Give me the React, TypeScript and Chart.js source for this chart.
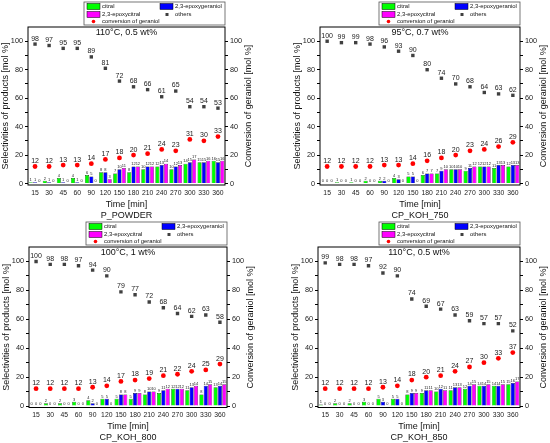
import { useEffect, useRef } from "react";
import { Chart, registerables } from "chart.js";

Chart.register(...registerables);

const FONT = '"Liberation Sans", Arial, sans-serif';

const TIMES = ["15", "30", "45", "60", "90", "120", "150", "180", "210", "240", "270", "300", "330", "360"];
const Y_TICKS = [0, 10, 20, 30, 40, 50, 60, 70, 80, 90, 100];

// P_POWDER, 110°C, 0.5 wt%
const P_POWDER_CITRAL = [1, 2, 4, 4, 6, 8, 7, 8, 10, 12, 10, 14, 15, 16];
const P_POWDER_EPOXYGERANIOL = [1, 1, 1, 1, 5, 8, 10, 12, 12, 13, 12, 15, 15, 15];
const P_POWDER_EPOXYCITRAL = [0, 0, 0, 0, 0, 3, 11, 12, 12, 14, 13, 17, 16, 16];
const P_POWDER_OTHERS = [98, 97, 95, 95, 89, 81, 72, 68, 66, 61, 65, 54, 54, 53];
const P_POWDER_CONVERSION = [12, 12, 13, 13, 14, 17, 18, 20, 21, 24, 23, 31, 30, 33];

// CP_KOH_750, 95°C, 0.7 wt%
const KOH750_CITRAL = [0, 1, 1, 2, 2, 4, 5, 6, 7, 10, 9, 12, 11, 12];
const KOH750_EPOXYGERANIOL = [0, 0, 0, 0, 2, 3, 5, 7, 9, 10, 11, 12, 13, 13];
const KOH750_EPOXYCITRAL = [0, 0, 0, 0, 0, 0, 0, 7, 10, 10, 12, 12, 13, 13];
const KOH750_OTHERS = [100, 99, 99, 98, 96, 93, 90, 80, 74, 70, 68, 64, 63, 62];
const KOH750_CONVERSION = [12, 12, 12, 12, 13, 13, 14, 16, 18, 20, 23, 24, 26, 29];

// CP_KOH_800, 100°C, 1 wt%
const KOH800_CITRAL = [0, 2, 2, 3, 4, 5, 5, 5, 8, 9, 12, 11, 8, 13];
const KOH800_EPOXYGERANIOL = [0, 0, 0, 0, 2, 5, 8, 9, 10, 11, 12, 13, 14, 14];
const KOH800_EPOXYCITRAL = [0, 0, 0, 0, 0, 0, 8, 9, 10, 12, 12, 14, 15, 15];
const KOH800_OTHERS = [100, 98, 98, 97, 94, 90, 79, 77, 72, 68, 64, 62, 63, 58];
const KOH800_CONVERSION = [12, 12, 12, 12, 13, 14, 17, 18, 19, 21, 22, 24, 25, 29];

// CP_KOH_850, 110°C, 0.5 wt%
const KOH850_CITRAL = [1, 2, 2, 3, 5, 5, 8, 9, 10, 11, 12, 14, 14, 15];
const KOH850_EPOXYGERANIOL = [0, 0, 0, 0, 3, 5, 9, 11, 12, 13, 14, 14, 14, 16];
const KOH850_EPOXYCITRAL = [0, 0, 0, 0, 0, 0, 9, 11, 11, 13, 15, 15, 15, 17];
const KOH850_OTHERS = [99, 98, 98, 97, 92, 90, 74, 69, 67, 63, 59, 57, 57, 52];
const KOH850_CONVERSION = [12, 12, 12, 12, 13, 14, 18, 20, 21, 24, 27, 30, 33, 37];

const SERIES_NAMES = ["citral", "2,3-epoxygeraniol", "2,3-epoxycitral", "others", "conversion of geraniol"];
const BAR_COLORS = ["#00ff00", "#0000ff", "#ff00ff"];
const OTHERS_COLOR = "#404040";
const CONVERSION_COLOR = "#ff0000";

type Panel = {
  name: string;
  title: string;
  series: number[][];
  left: number;
  top: number;
  width: number;
  height: number;
  xAxisHeight: number;
};

const PANELS: Panel[] = [
  {
    name: "P_POWDER",
    title: "110°C, 0.5 wt%",
    series: [P_POWDER_CITRAL, P_POWDER_EPOXYGERANIOL, P_POWDER_EPOXYCITRAL, P_POWDER_OTHERS, P_POWDER_CONVERSION],
    left: 0, top: 0, width: 255, height: 221, xAxisHeight: 36,
  },
  {
    name: "CP_KOH_750",
    title: "95°C, 0.7 wt%",
    series: [KOH750_CITRAL, KOH750_EPOXYGERANIOL, KOH750_EPOXYCITRAL, KOH750_OTHERS, KOH750_CONVERSION],
    left: 292, top: 0, width: 258, height: 221, xAxisHeight: 36,
  },
  {
    name: "CP_KOH_800",
    title: "100°C, 1 wt%",
    series: [KOH800_CITRAL, KOH800_EPOXYGERANIOL, KOH800_EPOXYCITRAL, KOH800_OTHERS, KOH800_CONVERSION],
    left: 1, top: 220, width: 256, height: 223, xAxisHeight: 35.5,
  },
  {
    name: "CP_KOH_850",
    title: "110°C, 0.5 wt%",
    series: [KOH850_CITRAL, KOH850_EPOXYGERANIOL, KOH850_EPOXYCITRAL, KOH850_OTHERS, KOH850_CONVERSION],
    left: 290, top: 220, width: 260, height: 223, xAxisHeight: 35.5,
  },
];

const makeDecorPlugin = (title: string) => ({
  id: "panelDecor",
  afterDatasetsDraw(chart: Chart) {
    const ctx = chart.ctx;
    chart.data.datasets.forEach((ds, i) => {
      const meta = chart.getDatasetMeta(i);
      const isBar = meta.type === "bar";
      ctx.save();
      ctx.font = `${isBar ? 4 : 7}px ${FONT}`;
      ctx.fillStyle = "#222";
      ctx.textAlign = "center";
      ctx.textBaseline = "bottom";
      meta.data.forEach((el: any, j: number) => {
        ctx.fillText(String(ds.data[j]), el.x, el.y - (isBar ? 0.3 : 2));
      });
      ctx.restore();
    });
  },
  afterDraw(chart: Chart) {
    const ctx = chart.ctx;
    const { left, right, top, bottom } = chart.chartArea;
    ctx.save();
    // plot frame
    ctx.strokeStyle = "#000";
    ctx.lineWidth = 1;
    ctx.strokeRect(left, top, right - left, bottom - top);

    // title inside plot
    ctx.fillStyle = "#111";
    ctx.font = `9px ${FONT}`;
    ctx.textAlign = "center";
    ctx.textBaseline = "middle";
    ctx.fillText(title, (left + right) / 2, top + 5.5);

    // right axis title, reading bottom to top
    ctx.save();
    ctx.translate(chart.width - 6, (top + bottom) / 2);
    ctx.rotate(-Math.PI / 2);
    ctx.font = `9px ${FONT}`;
    ctx.fillText("Conversion of geraniol [mol %]", 0, 0);
    ctx.restore();

    // legend box
    const lx = right - 141;
    ctx.fillStyle = "#fff";
    ctx.fillRect(lx, 2, 141, 23);
    ctx.strokeStyle = "#555";
    ctx.lineWidth = 0.8;
    ctx.strokeRect(lx, 2, 141, 23);
    ctx.font = `5.9px ${FONT}`;
    ctx.textAlign = "left";
    const swatch = (x: number, y: number, color: string) => {
      ctx.fillStyle = color;
      ctx.fillRect(x, y, 13, 6);
      ctx.strokeStyle = "#000";
      ctx.lineWidth = 0.5;
      ctx.strokeRect(x, y, 13, 6);
    };
    swatch(lx + 3, 3.5, BAR_COLORS[0]);
    swatch(lx + 76, 3.5, BAR_COLORS[1]);
    swatch(lx + 3, 11.5, BAR_COLORS[2]);
    ctx.fillStyle = OTHERS_COLOR;
    ctx.fillRect(lx + 81.5, 13, 3, 3);
    ctx.fillStyle = CONVERSION_COLOR;
    ctx.beginPath();
    ctx.arc(lx + 9.5, 21.5, 1.8, 0, Math.PI * 2);
    ctx.fill();
    ctx.fillStyle = "#111";
    ctx.fillText(SERIES_NAMES[0], lx + 18, 6.8);
    ctx.fillText(SERIES_NAMES[1], lx + 91, 6.8);
    ctx.fillText(SERIES_NAMES[2], lx + 18, 14.6);
    ctx.fillText(SERIES_NAMES[3], lx + 91, 14.6);
    ctx.fillText(SERIES_NAMES[4], lx + 18, 21.8);
    ctx.restore();
  },
});

function PanelChart({ panel }: { panel: Panel }) {
  const canvasRef = useRef<HTMLCanvasElement>(null);

  useEffect(() => {
    if (!canvasRef.current) return;
    const ctx = canvasRef.current.getContext("2d");
    if (!ctx) return;

    const tickFont = { size: 7.3, family: FONT };
    const yTicks = {
      font: tickFont,
      color: "#222",
      padding: 2,
      callback: (v: any) => (Number(v) % 20 === 0 ? String(v) : ""),
    };
    const yGrid = { drawOnChartArea: false, drawTicks: true, tickLength: 3, color: "#000" };
    const setTicks = (s: any) => {
      s.ticks = Y_TICKS.map((v) => ({ value: v }));
    };

    const chart = new Chart(ctx, {
      type: "bar",
      data: {
        labels: TIMES,
        datasets: [
          ...[0, 1, 2].map((k) => ({
            type: "bar" as const,
            label: SERIES_NAMES[k],
            data: panel.series[k],
            backgroundColor: BAR_COLORS[k],
            borderColor: "#000",
            borderWidth: 0.5,
            categoryPercentage: 0.92,
            barPercentage: 0.94,
            yAxisID: "y",
            order: 1,
          })),
          {
            type: "line" as const,
            label: SERIES_NAMES[3],
            data: panel.series[3],
            showLine: false,
            pointStyle: "rect",
            pointRadius: 2.4,
            pointBorderWidth: 0,
            backgroundColor: OTHERS_COLOR,
            borderColor: OTHERS_COLOR,
            yAxisID: "y",
            order: 0,
          },
          {
            type: "line" as const,
            label: SERIES_NAMES[4],
            data: panel.series[4],
            showLine: false,
            pointStyle: "circle",
            pointRadius: 2.4,
            pointBorderWidth: 0,
            backgroundColor: CONVERSION_COLOR,
            borderColor: CONVERSION_COLOR,
            yAxisID: "y1",
            order: 0,
          },
        ] as any,
      },
      options: {
        responsive: false,
        animation: false,
        layout: { padding: { top: 27, left: 0, right: 0, bottom: 0 } },
        plugins: { legend: { display: false }, tooltip: { enabled: false } },
        scales: {
          x: {
            type: "category",
            offset: true,
            grid: { display: false, drawTicks: false, tickLength: 0 },
            border: { display: false },
            ticks: { font: { size: 6.8, family: FONT }, color: "#222", padding: 4, autoSkip: false, maxRotation: 0 },
            title: {
              display: true,
              text: ["Time [min]", panel.name],
              font: { size: 9, family: FONT },
              color: "#111",
              padding: 0,
            },
            afterFit: (s: any) => {
              s.height = panel.xAxisHeight;
            },
          },
          y: {
            type: "linear",
            position: "left",
            min: -1,
            max: 110,
            afterBuildTicks: setTicks,
            ticks: yTicks,
            grid: yGrid,
            border: { display: false },
            title: {
              display: true,
              text: "Selectivities of products [mol %]",
              font: { size: 9, family: FONT },
              color: "#111",
              padding: 0,
            },
            afterFit: (s: any) => {
              s.width = 28;
            },
          },
          y1: {
            type: "linear",
            position: "right",
            min: -1,
            max: 110,
            afterBuildTicks: setTicks,
            ticks: yTicks,
            grid: yGrid,
            border: { display: false },
            afterFit: (s: any) => {
              s.width = 30;
            },
          },
        },
      } as any,
      plugins: [makeDecorPlugin(panel.title)],
    });

    return () => chart.destroy();
  }, [panel]);

  return (
    <canvas
      ref={canvasRef}
      width={panel.width}
      height={panel.height}
      style={{ position: "absolute", left: panel.left, top: panel.top, width: panel.width, height: panel.height }}
    />
  );
}

export default function App() {
  return (
    <div style={{ position: "fixed", left: 0, top: 0, width: 550, height: 443, background: "#fff", overflow: "hidden" }}>
      {PANELS.map((p) => (
        <PanelChart key={p.name} panel={p} />
      ))}
    </div>
  );
}
